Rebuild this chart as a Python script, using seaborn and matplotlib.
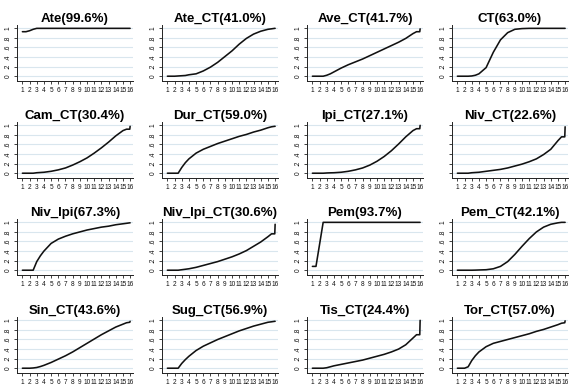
import matplotlib
matplotlib.use("Agg")
import matplotlib.pyplot as plt
import seaborn as sns
import pandas as pd

# shared x grid (time points)
x_grid = [1, 1.5, 2, 2.5, 3, 3.5, 4, 5, 6, 7, 8, 9, 10, 11, 12, 13, 14, 15, 15.5, 15.95, 16]
x_ticks = list(range(1, 17))
y_ticks = [0, 0.2, 0.4, 0.6, 0.8, 1.0]
y_tick_labels = ["0", ".2", ".4", ".6", ".8", "1"]

titles = ["Ate(99.6%)", "Ate_CT(41.0%)", "Ave_CT(41.7%)", "CT(63.0%)",
          "Cam_CT(30.4%)", "Dur_CT(59.0%)", "Ipi_CT(27.1%)", "Niv_CT(22.6%)",
          "Niv_Ipi(67.3%)", "Niv_Ipi_CT(30.6%)", "Pem(93.7%)", "Pem_CT(42.1%)",
          "Sin_CT(43.6%)", "Sug_CT(56.9%)", "Tis_CT(24.4%)", "Tor_CT(57.0%)"]

ate        = [0.93, 0.93, 0.95, 0.98, 1.0, 1.0, 1.0, 1.0, 1.0, 1.0, 1.0, 1.0, 1.0, 1.0, 1.0, 1.0, 1.0, 1.0, 1.0, 1.0, 1.0]
ate_ct     = [0, 0, 0, 0.005, 0.01, 0.015, 0.03, 0.05, 0.11, 0.19, 0.29, 0.41, 0.53, 0.67, 0.79, 0.88, 0.94, 0.98, 0.99, 1.0, 1.0]
ave_ct     = [0, 0, 0, 0, 0.02, 0.05, 0.09, 0.17, 0.24, 0.30, 0.36, 0.43, 0.50, 0.57, 0.64, 0.71, 0.79, 0.89, 0.93, 0.93, 0.99]
ct         = [0, 0, 0, 0, 0.005, 0.02, 0.05, 0.18, 0.50, 0.76, 0.91, 0.98, 0.995, 1.0, 1.0, 1.0, 1.0, 1.0, 1.0, 1.0, 1.0]
cam_ct     = [0, 0, 0, 0, 0.01, 0.015, 0.02, 0.04, 0.07, 0.11, 0.17, 0.24, 0.32, 0.42, 0.53, 0.65, 0.78, 0.89, 0.92, 0.92, 0.98]
dur_ct     = [0, 0, 0, 0, 0.12, 0.22, 0.30, 0.42, 0.50, 0.56, 0.62, 0.67, 0.72, 0.77, 0.81, 0.86, 0.90, 0.95, 0.97, 0.98, 0.98]
ipi_ct     = [0, 0, 0, 0, 0.005, 0.008, 0.01, 0.02, 0.04, 0.07, 0.11, 0.17, 0.25, 0.35, 0.47, 0.61, 0.76, 0.89, 0.93, 0.93, 1.0]
niv_ct     = [0, 0, 0, 0, 0.01, 0.015, 0.02, 0.04, 0.06, 0.08, 0.11, 0.15, 0.19, 0.24, 0.30, 0.39, 0.50, 0.68, 0.76, 0.76, 0.97]
niv_ipi    = [0, 0, 0, 0, 0.18, 0.30, 0.40, 0.56, 0.65, 0.71, 0.76, 0.80, 0.84, 0.87, 0.90, 0.92, 0.95, 0.97, 0.98, 0.99, 0.99]
niv_ipi_ct = [0, 0, 0, 0, 0.01, 0.02, 0.03, 0.06, 0.10, 0.14, 0.18, 0.23, 0.28, 0.34, 0.41, 0.50, 0.59, 0.70, 0.76, 0.76, 0.96]
pem        = [0.08, 0.08, 0.54, 1.0, 1.0, 1.0, 1.0, 1.0, 1.0, 1.0, 1.0, 1.0, 1.0, 1.0, 1.0, 1.0, 1.0, 1.0, 1.0, 1.0, 1.0]
pem_ct     = [0, 0, 0, 0, 0, 0.002, 0.005, 0.01, 0.03, 0.08, 0.18, 0.33, 0.50, 0.66, 0.80, 0.90, 0.96, 0.99, 1.0, 1.0, 1.0]
sin_ct     = [0, 0, 0, 0.005, 0.015, 0.035, 0.06, 0.12, 0.19, 0.26, 0.34, 0.43, 0.52, 0.61, 0.70, 0.78, 0.86, 0.92, 0.95, 0.96, 0.98]
sug_ct     = [0, 0, 0, 0, 0.10, 0.18, 0.25, 0.37, 0.46, 0.53, 0.60, 0.66, 0.72, 0.78, 0.83, 0.88, 0.92, 0.96, 0.97, 0.98, 0.98]
tis_ct     = [0, 0, 0, 0, 0.01, 0.03, 0.05, 0.08, 0.11, 0.14, 0.17, 0.21, 0.25, 0.29, 0.34, 0.40, 0.49, 0.63, 0.70, 0.70, 1.0]
tor_ct     = [0, 0, 0, 0.03, 0.16, 0.26, 0.34, 0.45, 0.52, 0.56, 0.60, 0.64, 0.68, 0.72, 0.77, 0.81, 0.86, 0.91, 0.94, 0.95, 0.99]

series = [ate, ate_ct, ave_ct, ct, cam_ct, dur_ct, ipi_ct, niv_ct,
          niv_ipi, niv_ipi_ct, pem, pem_ct, sin_ct, sug_ct, tis_ct, tor_ct]
no_ylabels = {"Niv_CT(22.6%)"}

sns.set_style("white")
plt.rcParams["font.family"] = ["Liberation Sans", "DejaVu Sans"]

W, H = 574, 385
fig = plt.figure(figsize=(W / 100, H / 100), dpi=100)
fig.patch.set_facecolor("white")

col_left = [17, 162, 307, 452]
row_bottom = [81, 178, 275, 373]
ax_w, ax_h = 116, 56
grid_color = "#d9e6ee"

for i, (title, vals) in enumerate(zip(titles, series)):
    r, c = divmod(i, 4)
    rect = [col_left[c] / W, (H - row_bottom[r]) / H, ax_w / W, ax_h / H]
    ax = fig.add_axes(rect)
    df = pd.DataFrame({"x": x_grid, "y": vals})
    for yt in y_ticks:
        ax.axhline(yt, color=grid_color, lw=0.8, zorder=0)
    sns.lineplot(data=df, x="x", y="y", ax=ax, color="#111111", lw=1.15,
                 estimator=None, sort=False)
    ax.set_xlim(0.25, 16.4)
    ax.set_ylim(-0.1, 1.07)
    ax.set_xticks(x_ticks)
    ax.set_xticklabels([str(t) for t in x_ticks], fontsize=4.7)
    ax.set_yticks(y_ticks)
    if title in no_ylabels:
        ax.set_yticklabels([])
    else:
        ax.set_yticklabels(y_tick_labels, fontsize=4.7, rotation=90, va="center")
    ax.tick_params(axis="both", which="both", direction="out", length=2.5,
                   width=0.6, pad=1.5, color="#222222", labelcolor="#111111")
    ax.xaxis.set_ticks_position("bottom")
    ax.yaxis.set_ticks_position("left")
    for s in ["top", "right"]:
        ax.spines[s].set_visible(False)
    for s in ["left", "bottom"]:
        ax.spines[s].set_color("#222222")
        ax.spines[s].set_linewidth(0.7)
    ax.set_xlabel("")
    ax.set_ylabel("")
    ax.set_title(title, fontsize=9.5, fontweight="bold", pad=2, color="black")

fig.savefig("out.png", dpi=100, facecolor="white")
